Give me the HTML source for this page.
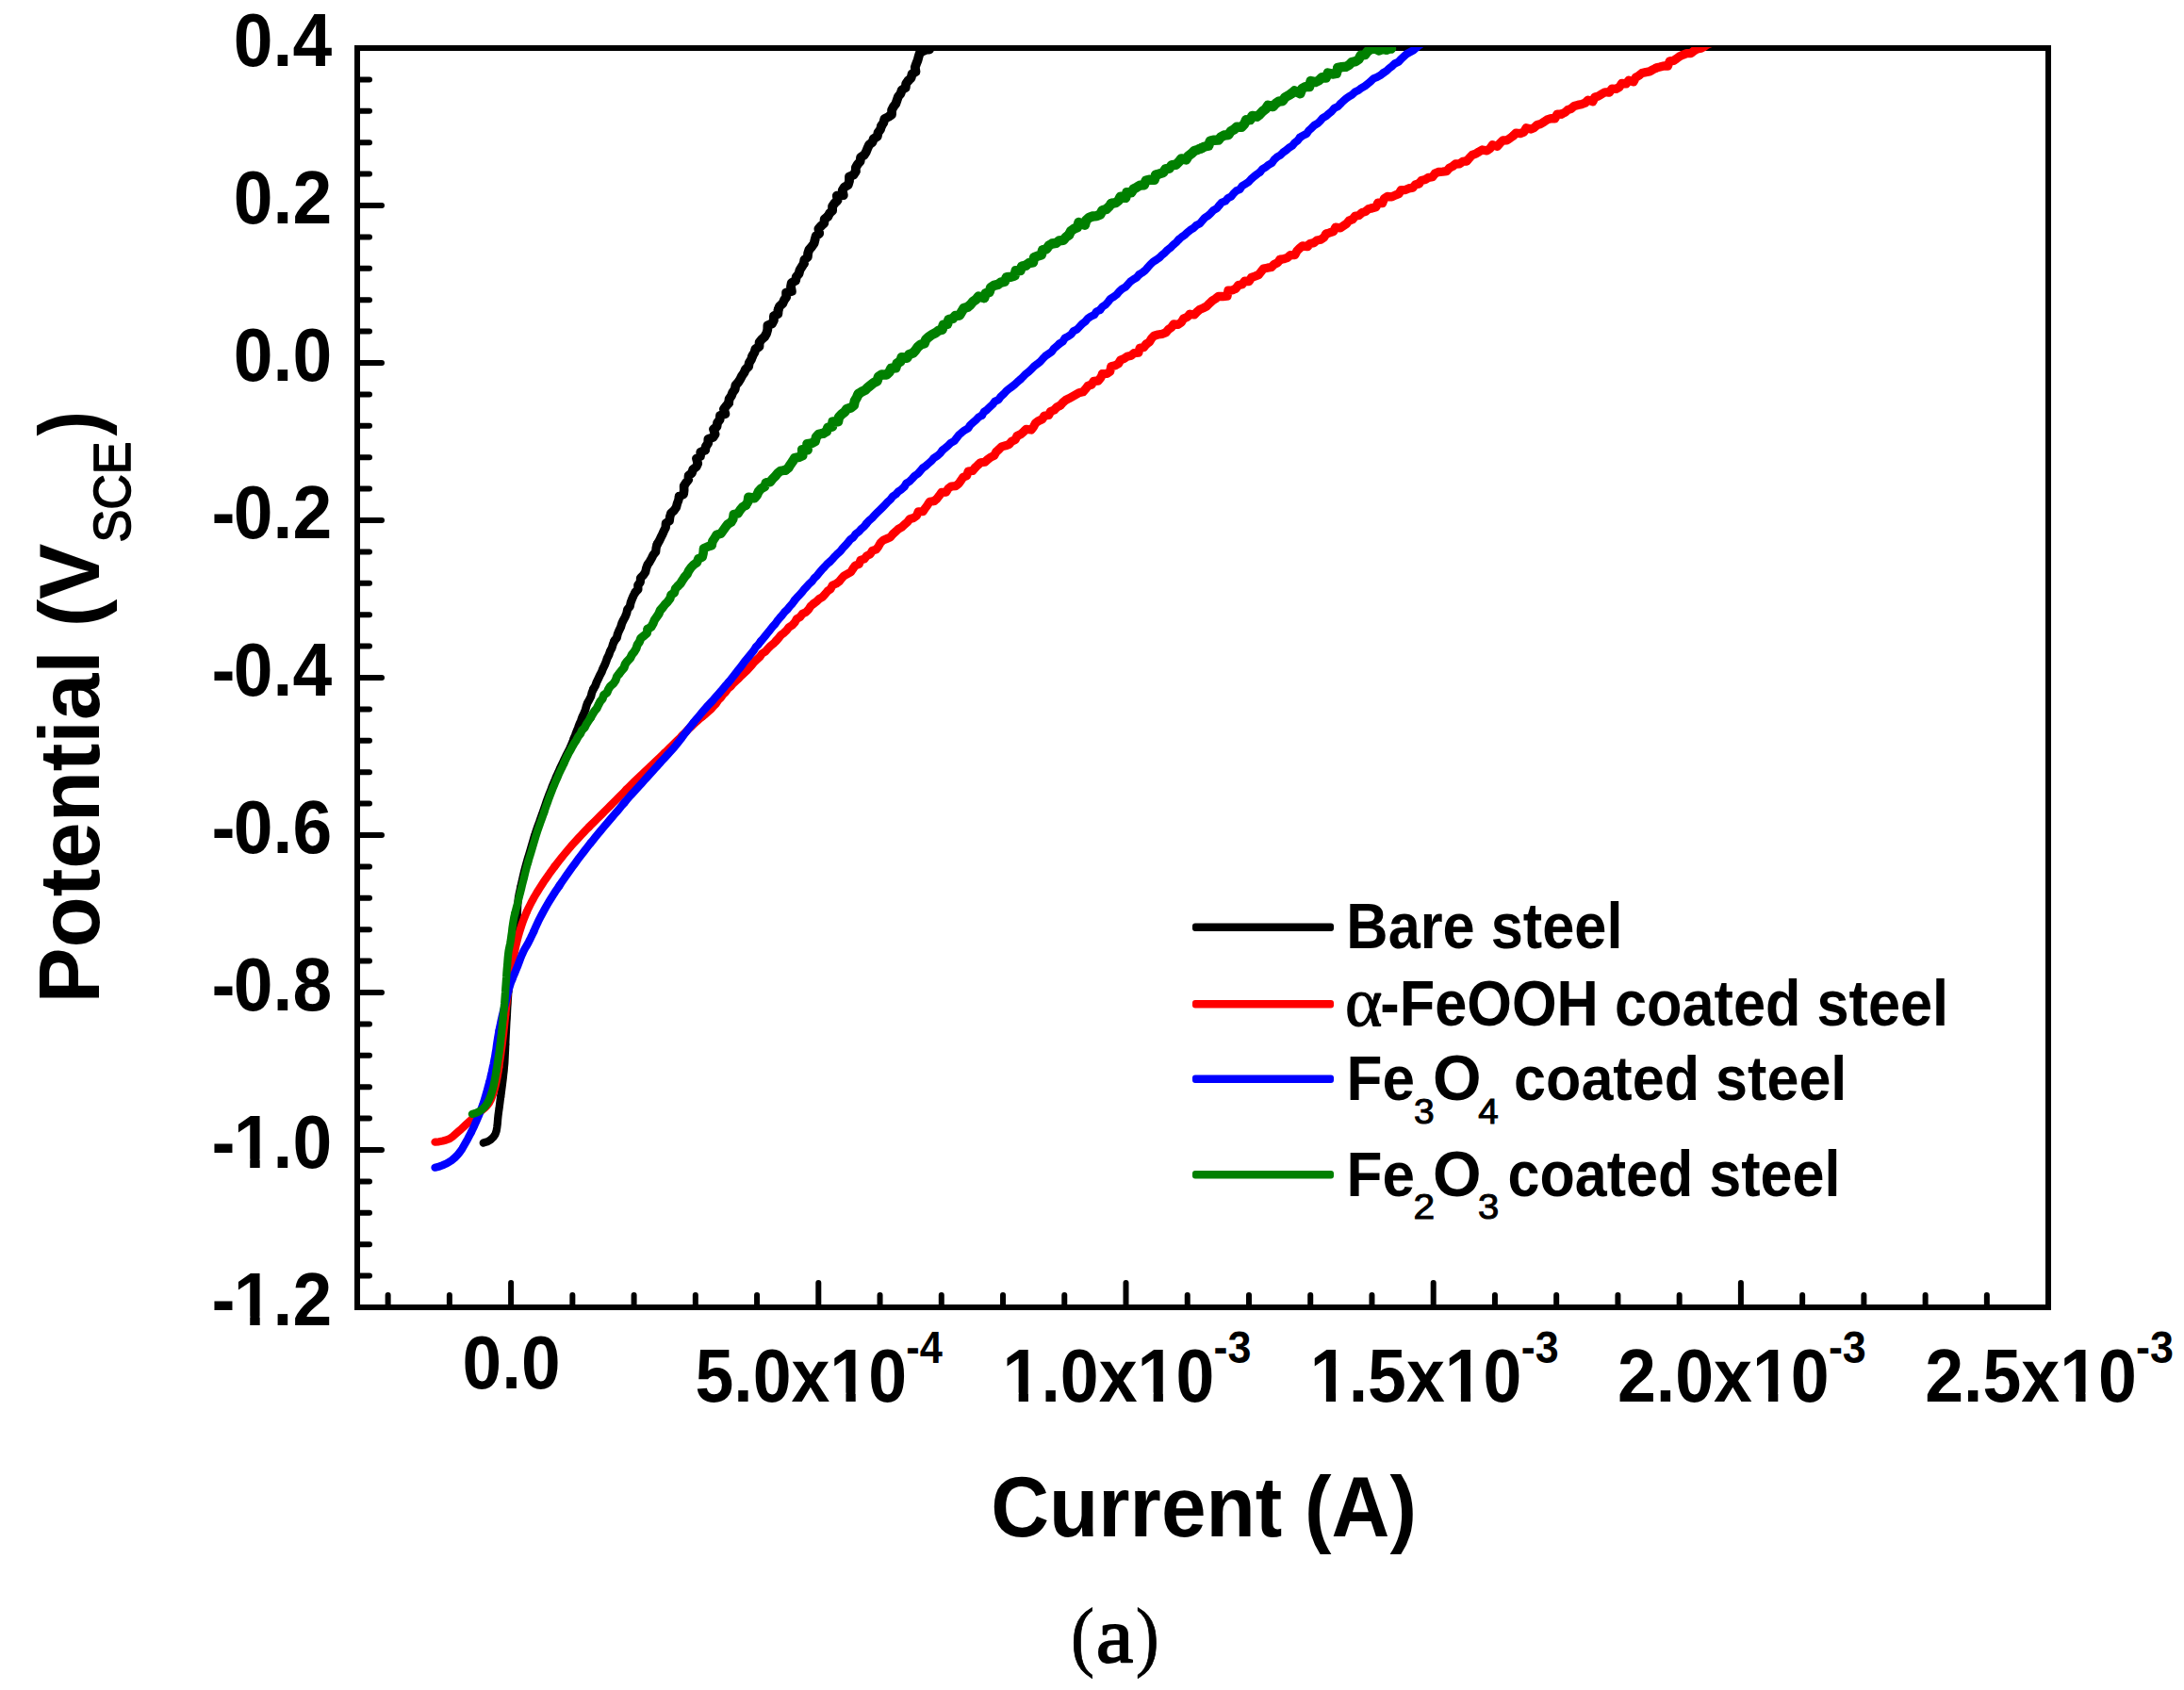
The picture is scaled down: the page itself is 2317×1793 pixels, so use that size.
<!DOCTYPE html>
<html lang="en"><head><meta charset="utf-8"><title>Polarization curves</title>
<style>html,body{margin:0;padding:0;background:#fff}body{width:2317px;height:1793px;overflow:hidden}svg text{white-space:pre}</style>
</head><body>
<svg width="2317" height="1793" viewBox="0 0 2317 1793" style="display:block">
<rect width="2317" height="1793" fill="#fff"/>
<defs><clipPath id="plotclip"><rect x="379.0" y="50.0" width="1794.0" height="1337.0"/></clipPath></defs>
<g fill="none" stroke="#000" stroke-width="6.0">
<rect x="379.0" y="51.0" width="1794.0" height="1336.0"/>
</g>
<g fill="none" stroke="#000" stroke-width="6.0" stroke-linecap="round">
<path d="M379.0 84.40h13.0"/>
<path d="M379.0 117.80h13.0"/>
<path d="M379.0 151.20h13.0"/>
<path d="M379.0 184.60h13.0"/>
<path d="M379.0 218.00h26.0"/>
<path d="M379.0 251.40h13.0"/>
<path d="M379.0 284.80h13.0"/>
<path d="M379.0 318.20h13.0"/>
<path d="M379.0 351.60h13.0"/>
<path d="M379.0 385.00h26.0"/>
<path d="M379.0 418.40h13.0"/>
<path d="M379.0 451.80h13.0"/>
<path d="M379.0 485.20h13.0"/>
<path d="M379.0 518.60h13.0"/>
<path d="M379.0 552.00h26.0"/>
<path d="M379.0 585.40h13.0"/>
<path d="M379.0 618.80h13.0"/>
<path d="M379.0 652.20h13.0"/>
<path d="M379.0 685.60h13.0"/>
<path d="M379.0 719.00h26.0"/>
<path d="M379.0 752.40h13.0"/>
<path d="M379.0 785.80h13.0"/>
<path d="M379.0 819.20h13.0"/>
<path d="M379.0 852.60h13.0"/>
<path d="M379.0 886.00h26.0"/>
<path d="M379.0 919.40h13.0"/>
<path d="M379.0 952.80h13.0"/>
<path d="M379.0 986.20h13.0"/>
<path d="M379.0 1019.60h13.0"/>
<path d="M379.0 1053.00h26.0"/>
<path d="M379.0 1086.40h13.0"/>
<path d="M379.0 1119.80h13.0"/>
<path d="M379.0 1153.20h13.0"/>
<path d="M379.0 1186.60h13.0"/>
<path d="M379.0 1220.00h26.0"/>
<path d="M379.0 1253.40h13.0"/>
<path d="M379.0 1286.80h13.0"/>
<path d="M379.0 1320.20h13.0"/>
<path d="M379.0 1353.60h13.0"/>
<path d="M411.62 1387.0v-13.0"/>
<path d="M476.86 1387.0v-13.0"/>
<path d="M542.10 1387.0v-26.0"/>
<path d="M607.34 1387.0v-13.0"/>
<path d="M672.58 1387.0v-13.0"/>
<path d="M737.82 1387.0v-13.0"/>
<path d="M803.06 1387.0v-13.0"/>
<path d="M868.30 1387.0v-26.0"/>
<path d="M933.54 1387.0v-13.0"/>
<path d="M998.78 1387.0v-13.0"/>
<path d="M1064.02 1387.0v-13.0"/>
<path d="M1129.26 1387.0v-13.0"/>
<path d="M1194.50 1387.0v-26.0"/>
<path d="M1259.74 1387.0v-13.0"/>
<path d="M1324.98 1387.0v-13.0"/>
<path d="M1390.22 1387.0v-13.0"/>
<path d="M1455.46 1387.0v-13.0"/>
<path d="M1520.70 1387.0v-26.0"/>
<path d="M1585.94 1387.0v-13.0"/>
<path d="M1651.18 1387.0v-13.0"/>
<path d="M1716.42 1387.0v-13.0"/>
<path d="M1781.66 1387.0v-13.0"/>
<path d="M1846.90 1387.0v-26.0"/>
<path d="M1912.14 1387.0v-13.0"/>
<path d="M1977.38 1387.0v-13.0"/>
<path d="M2042.62 1387.0v-13.0"/>
<path d="M2107.86 1387.0v-13.0"/>
</g>
<g clip-path="url(#plotclip)" fill="none" stroke-width="8.3" stroke-linejoin="round" stroke-linecap="round">
<polyline stroke="#000000" stroke-width="8.30" points="512.8,1212.5 516.9,1211.3 520.3,1209.4 523.1,1206.8 525.5,1203.3 526.7,1199.6 527.3,1195.8 527.8,1191.8 528.1,1187.7 528.5,1183.6 529.0,1179.7 529.6,1175.7 530.1,1171.7 530.6,1167.8 531.1,1163.8"/>
<polyline stroke="#000000" stroke-width="8.30" points="531.1,1163.8 531.7,1159.8 532.2,1155.9 532.7,1151.9 533.2,1147.9 533.7,1144.0 534.1,1140.0 534.6,1136.0 534.9,1132.0 535.3,1128.0 535.5,1124.1 535.7,1120.1 535.9,1116.1 536.1,1112.1 536.2,1108.1"/>
<polyline stroke="#000000" stroke-width="8.30" points="536.2,1108.1 536.4,1104.1 536.6,1100.1 536.8,1096.1 537.0,1092.1 537.2,1088.1 537.4,1084.1 537.7,1080.1 537.9,1076.1 538.1,1072.1 538.3,1068.1 538.6,1064.1 538.8,1060.1 539.1,1056.1 539.3,1052.2"/>
<polyline stroke="#000000" stroke-width="8.30" points="539.3,1052.2 539.6,1048.2 539.9,1044.2 540.2,1040.2 540.6,1036.2 540.9,1032.2 541.3,1028.2 541.7,1024.3 542.1,1020.3 542.5,1016.3 543.0,1012.3 543.5,1008.4 544.0,1004.4 544.7,1000.4 545.4,996.5"/>
<polyline stroke="#000000" stroke-width="8.30" points="545.4,996.5 546.0,992.6 546.6,988.6 547.3,984.6 547.9,980.7 548.3,976.7 548.7,972.7 548.9,968.7 549.0,964.7 549.2,960.7 549.5,956.8 549.9,952.8 550.6,948.9 551.5,944.9 552.4,941.0"/>
<polyline stroke="#000000" stroke-width="8.30" points="552.4,941.0 553.2,937.1 554.1,933.2 555.0,929.3 555.9,925.4 556.9,921.5 557.9,917.7 559.0,913.8 560.1,910.0 561.3,906.2 562.5,902.3 563.6,898.5 564.7,894.7 565.8,890.8 567.0,887.0"/>
<polyline stroke="#000000" stroke-width="8.30" points="567.0,887.0 568.2,883.2 569.5,879.4 570.8,875.6 572.2,871.9 573.5,868.1 574.9,864.3 576.2,860.5 577.5,856.8 578.8,853.0 580.1,849.2 581.5,845.5 582.9,841.7 584.4,838.0 585.9,834.3"/>
<polyline stroke="#000000" stroke-width="8.45" points="585.9,834.3 587.4,830.6 589.0,826.9 590.5,823.2 592.2,819.6 593.8,815.9 595.5,812.3 597.2,808.7 598.9,805.1 600.7,801.5 602.5,797.9 604.3,794.3 605.9,790.7 607.5,787.0 608.9,783.3"/>
<polyline stroke="#000000" stroke-width="8.65" points="608.9,783.3 610.4,779.6 611.8,775.8 613.3,772.1 614.7,768.3 616.3,764.7 617.6,760.9 619.3,757.2 620.9,753.6 621.9,749.7 623.2,745.9 625.2,742.4 627.0,738.8 627.9,734.8 629.4,731.1"/>
<polyline stroke="#000000" stroke-width="8.84" points="629.4,731.1 631.5,727.7 632.9,723.9 634.6,720.3 636.3,716.7 638.2,713.2 639.6,709.4 641.4,705.8 642.9,702.1 644.2,698.3 646.0,694.7 647.3,690.9 649.2,687.4 650.3,683.5 651.8,679.8"/>
<polyline stroke="#000000" stroke-width="9.03" points="651.8,679.8 654.4,676.6 655.3,672.6 656.8,668.9 658.6,665.3 659.7,661.4 661.4,657.8 663.3,654.3 664.8,650.6 665.6,646.6 668.3,643.4 669.1,639.4 670.5,635.6 672.1,631.9 674.0,628.4"/>
<polyline stroke="#000000" stroke-width="9.23" points="674.0,628.4 676.9,625.3 676.8,620.9 679.3,617.6 679.5,613.3 682.5,610.3 684.7,606.9 685.6,602.9 687.0,599.2 689.3,595.8 691.3,592.3 693.0,588.7 695.7,585.5 696.1,581.3 697.2,577.4"/>
<polyline stroke="#000000" stroke-width="9.42" points="697.2,577.4 699.3,574.0 701.0,570.4 702.8,566.8 704.4,563.1 706.2,559.6 706.4,555.2 710.2,552.6 710.7,548.4 711.8,544.5 715.1,541.6 717.4,538.3 718.4,534.3 719.8,530.6 720.6,526.5"/>
<polyline stroke="#000000" stroke-width="9.61" points="720.6,526.5 725.2,524.3 725.7,520.1 725.6,515.6 727.7,512.2 730.3,509.0 730.5,504.6 734.0,501.9 735.2,498.0 738.7,495.3 740.3,491.7 738.9,486.4 743.1,484.1 743.2,479.6 748.0,477.6"/>
<polyline stroke="#000000" stroke-width="9.79" points="748.0,477.6 748.9,473.6 751.2,470.3 751.4,465.8 756.5,464.0 758.6,460.6 757.0,455.3 760.5,452.6 761.1,448.4 763.6,445.2 764.0,440.9 769.4,439.1 767.9,433.9 770.4,430.7 773.1,427.6"/>
<polyline stroke="#000000" stroke-width="9.80" points="773.1,427.6 773.6,423.3 775.9,420.0 777.3,416.3 779.7,413.0 780.4,408.8 783.1,405.7 785.3,402.4 787.1,398.8 789.4,395.5 791.0,391.8 794.1,388.9 794.8,384.8 797.0,381.4 798.3,377.6"/>
<polyline stroke="#000000" stroke-width="9.80" points="798.3,377.6 800.4,374.1 801.5,370.2 805.5,367.8 805.6,363.3 808.0,360.1 811.2,357.3 813.2,353.8 814.3,349.8 814.4,345.3 819.1,343.4 820.9,339.8 820.9,335.2 825.4,333.1 825.6,328.7"/>
<polyline stroke="#000000" stroke-width="9.80" points="825.6,328.7 827.0,324.9 830.3,322.1 831.9,318.4 834.2,315.1 834.1,310.5 839.9,309.1 839.0,304.1 839.8,300.0 844.1,297.7 844.8,293.6 847.5,290.5 848.5,286.5 850.6,283.1 852.8,279.7"/>
<polyline stroke="#000000" stroke-width="9.80" points="852.8,279.7 853.4,275.5 856.8,272.7 857.2,268.5 858.5,264.7 861.3,261.6 863.6,258.2 864.6,254.3 865.7,250.3 869.2,247.7 868.4,242.7 871.2,239.6 874.3,236.8 874.7,232.4 878.2,229.8"/>
<polyline stroke="#000000" stroke-width="9.80" points="878.2,229.8 880.1,226.3 883.1,223.4 883.1,218.8 885.5,215.5 888.6,212.7 887.8,207.6 894.8,207.2 893.7,201.8 895.9,198.4 899.8,196.2 901.0,192.2 901.0,187.6 905.6,185.6 907.7,182.1"/>
<polyline stroke="#000000" stroke-width="9.80" points="907.7,182.1 907.9,177.7 909.9,174.2 912.6,171.2 913.1,166.8 916.8,164.5 918.9,161.1 920.4,157.2 922.1,153.4 925.5,151.0 926.8,147.2 930.8,144.8 931.5,140.7 934.0,137.4 935.1,133.5"/>
<polyline stroke="#000000" stroke-width="9.80" points="935.1,133.5 937.3,130.2 938.4,126.1 942.4,124.0 946.0,121.7 946.1,116.8 947.9,113.3 950.3,110.1 951.6,106.3 952.9,102.5 955.5,99.3 956.8,95.4 960.7,93.1 961.2,88.7 963.6,85.6"/>
<polyline stroke="#000000" stroke-width="9.80" points="963.6,85.6 966.6,82.7 967.6,78.5 971.5,76.1 970.8,71.3 972.1,67.6 973.6,63.9 974.6,60.0 975.9,55.9 979.4,54.2 983.1,52.5 986.0,52.5"/>
<polyline stroke="#ff0000" stroke-width="8.30" points="461.5,1211.6 465.7,1211.3 469.7,1210.5 473.4,1209.5 477.0,1208.1 480.2,1205.9 483.3,1203.2 486.4,1200.4 489.4,1197.8 492.3,1195.1 495.2,1192.3 498.2,1189.6 501.2,1187.0 504.2,1184.3 507.1,1181.6"/>
<polyline stroke="#ff0000" stroke-width="8.30" points="507.1,1181.6 510.2,1178.9 513.4,1176.2 516.3,1173.4 518.7,1170.4 520.5,1167.1 522.0,1163.4 523.4,1159.6 524.6,1155.7 525.6,1151.7 526.5,1147.8 527.3,1143.9 528.0,1140.0 528.7,1136.1 529.3,1132.1"/>
<polyline stroke="#ff0000" stroke-width="8.30" points="529.3,1132.1 529.8,1128.1 530.4,1124.1 531.0,1120.2 531.5,1116.2 532.1,1112.2 532.6,1108.3 533.1,1104.3 533.6,1100.3 534.1,1096.4 534.5,1092.4 535.0,1088.4 535.4,1084.4 535.8,1080.5 536.2,1076.5"/>
<polyline stroke="#ff0000" stroke-width="8.30" points="536.2,1076.5 536.6,1072.5 537.0,1068.5 537.5,1064.5 537.9,1060.6 538.4,1056.6 538.9,1052.6 539.5,1048.7 540.0,1044.7 540.6,1040.8 541.2,1036.8 541.8,1032.8 542.5,1028.9 543.1,1024.9 543.8,1021.0"/>
<polyline stroke="#ff0000" stroke-width="8.30" points="543.8,1021.0 544.5,1017.1 545.3,1013.1 546.1,1009.2 546.9,1005.3 547.8,1001.4 548.7,997.5 549.7,993.6 550.8,989.8 552.0,986.0 553.2,982.2 554.5,978.4 555.9,974.6 557.4,970.9 558.9,967.2"/>
<polyline stroke="#ff0000" stroke-width="8.30" points="558.9,967.2 560.6,963.6 562.4,960.0 564.2,956.4 566.1,952.9 568.1,949.5 570.2,946.0 572.3,942.6 574.5,939.2 576.6,935.9 578.9,932.6 581.2,929.3 583.5,926.0 585.9,922.8 588.2,919.6"/>
<polyline stroke="#ff0000" stroke-width="8.30" points="588.2,919.6 590.7,916.4 593.1,913.3 595.6,910.1 598.1,907.0 600.7,903.9 603.2,900.9 605.8,897.8 608.5,894.8 611.2,891.9 613.9,888.9 616.6,886.0 619.3,883.1 622.1,880.2 624.9,877.3"/>
<polyline stroke="#ff0000" stroke-width="8.30" points="624.9,877.3 627.7,874.5 630.6,871.7 633.4,868.9 636.3,866.0 639.1,863.2 641.9,860.4 644.7,857.6 647.6,854.7 650.4,851.9 653.2,849.1 656.1,846.2 658.9,843.4 661.7,840.6 664.5,837.7"/>
<polyline stroke="#ff0000" stroke-width="8.38" points="664.5,837.7 667.3,834.9 670.2,832.1 673.0,829.3 675.9,826.5 678.8,823.7 681.7,821.0 684.6,818.2 687.5,815.5 690.4,812.7 693.3,810.0 696.2,807.2 699.1,804.5 702.0,801.7 704.9,799.0"/>
<polyline stroke="#ff0000" stroke-width="8.48" points="704.9,799.0 707.8,796.2 710.7,793.4 713.6,790.6 716.4,787.8 719.2,785.0 722.1,782.2 724.8,779.2 727.6,776.4 730.4,773.5 733.4,770.9 736.2,768.0 739.2,765.4 742.1,762.6 745.2,760.1"/>
<polyline stroke="#ff0000" stroke-width="8.57" points="745.2,760.1 748.4,757.6 751.4,754.9 754.4,752.3 756.9,749.3 759.7,746.4 761.9,743.0 764.8,740.2 767.0,736.9 769.9,734.1 772.2,730.8 775.3,728.2 777.9,725.1 780.8,722.3 783.7,719.6"/>
<polyline stroke="#ff0000" stroke-width="8.68" points="783.7,719.6 786.5,716.7 789.4,714.0 792.4,711.3 795.1,708.4 797.8,705.4 800.3,702.2 803.2,699.5 806.2,696.8 808.5,693.4 812.0,691.3 814.6,688.2 817.4,685.4 820.5,682.9 823.3,680.0"/>
<polyline stroke="#ff0000" stroke-width="8.77" points="823.3,680.0 826.0,677.0 828.5,673.8 831.7,671.4 834.6,668.6 837.0,665.4 840.5,663.3 843.2,660.3 845.2,656.6 848.8,654.6 851.2,651.3 855.0,649.5 857.8,646.6 860.0,643.1 863.0,640.5"/>
<polyline stroke="#ff0000" stroke-width="8.87" points="863.0,640.5 866.3,638.2 869.1,635.3 872.7,633.3 875.4,630.3 877.9,627.2 881.2,624.8 883.1,621.0 887.0,619.3 890.3,616.9 892.8,613.8 895.5,610.8 899.1,608.8 902.7,606.8 904.9,603.3"/>
<polyline stroke="#ff0000" stroke-width="8.96" points="904.9,603.3 907.3,600.0 911.4,598.6 912.9,594.3 917.0,592.9 919.5,589.7 923.3,587.9 925.4,584.2 929.5,582.9 932.0,579.7 934.1,575.9 937.0,573.1 940.9,571.5 944.7,569.9 947.2,566.6"/>
<polyline stroke="#ff0000" stroke-width="9.05" points="947.2,566.6 950.2,564.0 953.1,561.2 956.7,559.3 959.6,556.5 962.7,553.9 965.1,550.6 969.3,549.5 972.5,547.1 974.2,542.7 979.2,542.7 981.6,539.1 984.0,535.8 986.3,532.3 990.9,531.6"/>
<polyline stroke="#ff0000" stroke-width="9.14" points="990.9,531.6 994.0,529.1 996.5,525.8 998.9,522.4 1003.8,522.1 1005.9,518.4 1009.2,516.0 1013.9,515.6 1017.1,513.1 1019.5,509.8 1021.8,506.2 1025.7,504.7 1027.1,500.0 1031.8,499.5 1034.4,496.3"/>
<polyline stroke="#ff0000" stroke-width="9.23" points="1034.4,496.3 1037.3,493.5 1040.3,490.8 1044.8,490.2 1047.8,487.5 1051.0,485.1 1054.7,483.4 1056.8,479.5 1059.8,476.8 1062.6,473.9 1066.8,472.8 1070.7,471.4 1073.3,468.2 1077.1,466.6 1079.1,462.5"/>
<polyline stroke="#ff0000" stroke-width="9.30" points="1079.1,462.5 1082.8,460.8 1085.8,458.2 1088.7,455.4 1094.1,456.0 1096.6,452.7 1098.7,448.7 1102.0,446.4 1105.7,444.7 1108.0,441.0 1112.5,440.5 1114.6,436.5 1118.4,435.0 1121.2,432.0 1124.8,430.2"/>
<polyline stroke="#ff0000" stroke-width="9.30" points="1124.8,430.2 1127.5,427.1 1130.6,424.5 1134.2,422.7 1137.7,420.7 1141.2,418.7 1144.7,416.7 1148.9,415.8 1151.7,412.7 1154.2,409.4 1158.1,408.0 1160.4,404.3 1165.1,404.0 1167.7,400.8 1169.6,396.6"/>
<polyline stroke="#ff0000" stroke-width="9.30" points="1169.6,396.6 1174.4,396.3 1177.7,394.1 1178.8,388.8 1183.1,387.8 1186.5,385.8 1188.7,382.0 1192.5,380.5 1195.8,378.2 1200.1,377.2 1203.2,374.7 1207.8,374.2 1209.2,369.3 1213.5,368.4 1216.0,365.1"/>
<polyline stroke="#ff0000" stroke-width="9.30" points="1216.0,365.1 1219.4,362.9 1221.6,359.2 1224.4,356.2 1228.5,355.0 1232.8,354.3 1236.7,352.9 1239.4,349.7 1242.6,347.5 1245.1,344.0 1250.0,344.3 1253.3,342.0 1255.6,338.0 1259.3,336.4 1262.2,333.4"/>
<polyline stroke="#ff0000" stroke-width="9.30" points="1262.2,333.4 1267.1,333.9 1269.9,330.8 1273.1,328.2 1276.8,326.7 1280.3,324.8 1283.2,321.8 1286.2,319.0 1289.6,316.9 1292.7,314.3 1297.5,314.5 1302.0,314.2 1303.0,308.1 1307.5,307.9 1311.1,306.1"/>
<polyline stroke="#ff0000" stroke-width="9.30" points="1311.1,306.1 1313.6,302.6 1317.8,301.7 1320.4,298.2 1325.2,298.5 1327.5,294.5 1331.3,293.2 1335.1,291.7 1337.8,288.4 1340.4,285.0 1344.6,284.2 1348.8,283.5 1351.7,280.5 1355.4,278.8 1358.0,275.4"/>
<polyline stroke="#ff0000" stroke-width="9.30" points="1358.0,275.4 1362.2,274.7 1366.0,273.3 1369.1,270.6 1373.7,270.5 1375.9,266.3 1378.8,263.4 1381.9,260.8 1387.1,261.7 1389.8,258.5 1393.9,257.6 1397.1,255.0 1401.2,254.2 1404.5,251.9 1406.9,248.1"/>
<polyline stroke="#ff0000" stroke-width="9.30" points="1406.9,248.1 1410.8,246.8 1414.7,245.6 1416.8,241.2 1421.9,241.9 1425.2,239.7 1428.5,237.4 1431.2,234.1 1435.0,232.6 1437.6,229.2 1441.7,228.4 1444.8,225.7 1448.7,224.4 1451.8,221.8 1455.8,220.7"/>
<polyline stroke="#ff0000" stroke-width="9.30" points="1455.8,220.7 1459.8,219.7 1461.8,215.1 1466.6,215.6 1468.5,210.6 1471.9,208.5 1476.6,208.8 1480.2,207.1 1484.0,205.7 1486.4,201.6 1490.8,201.5 1494.5,199.9 1498.7,199.2 1501.5,196.0 1505.4,194.8"/>
<polyline stroke="#ff0000" stroke-width="9.30" points="1505.4,194.8 1508.1,191.4 1512.1,190.4 1515.6,188.3 1519.7,187.7 1522.4,184.1 1526.0,182.5 1530.4,182.2 1534.6,181.7 1537.4,178.4 1541.0,176.5 1544.2,174.0 1548.5,173.8 1551.8,171.4 1556.0,170.9"/>
<polyline stroke="#ff0000" stroke-width="9.30" points="1556.0,170.9 1558.9,167.7 1561.8,164.5 1565.6,163.2 1569.0,161.0 1572.5,159.0 1577.4,159.9 1580.7,157.7 1583.3,153.8 1588.5,155.4 1591.3,152.0 1594.3,149.0 1598.6,148.8 1602.0,146.6 1605.3,144.1"/>
<polyline stroke="#ff0000" stroke-width="9.30" points="1605.3,144.1 1608.3,141.1 1612.9,141.6 1616.7,140.2 1619.0,135.8 1624.1,137.0 1627.7,135.4 1630.8,132.5 1634.7,131.4 1638.1,129.3 1641.4,126.9 1645.3,125.7 1649.7,125.9 1651.9,121.1 1656.4,121.2"/>
<polyline stroke="#ff0000" stroke-width="9.30" points="1656.4,121.2 1660.0,119.4 1663.1,116.7 1666.9,115.3 1670.0,112.5 1673.9,111.4 1677.9,110.6 1681.7,109.2 1684.6,106.1 1689.9,107.7 1692.0,102.9 1695.9,101.9 1699.3,99.8 1702.8,97.8 1707.3,97.9"/>
<polyline stroke="#ff0000" stroke-width="9.30" points="1707.3,97.9 1710.0,94.2 1714.5,94.4 1718.0,92.4 1720.5,88.3 1725.2,88.9 1727.9,85.3 1733.0,86.8 1735.3,82.3 1738.8,80.1 1742.0,77.5 1746.0,76.6 1750.0,75.9 1753.5,73.9 1757.1,72.1"/>
<polyline stroke="#ff0000" stroke-width="9.30" points="1757.1,72.1 1761.0,71.1 1764.9,70.0 1769.4,70.1 1771.3,64.9 1775.5,64.4 1778.8,62.1 1782.0,59.7 1785.7,58.1 1789.5,56.7 1794.0,56.6 1797.1,53.9 1800.6,51.9 1804.6,51.1 1808.1,49.1"/>
<polyline stroke="#ff0000" stroke-width="9.30" points="1808.1,49.1 1811.5,47.1 1815.2,45.5 1818.7,43.5 1822.0,42.0"/>
<polyline stroke="#0000ff" stroke-width="8.30" points="461.5,1238.7 465.5,1237.7 469.3,1236.4 472.9,1234.8 476.4,1232.9 479.7,1230.7 482.8,1228.0 485.6,1225.1 488.0,1222.1 490.3,1218.8 492.3,1215.3 494.3,1211.7 496.3,1208.2 498.1,1204.7 500.0,1201.1"/>
<polyline stroke="#0000ff" stroke-width="8.30" points="500.0,1201.1 501.7,1197.5 503.4,1193.9 505.0,1190.3 506.6,1186.6 508.2,1182.9 509.6,1179.2 511.0,1175.4 512.4,1171.7 513.6,1167.9 514.8,1164.0 515.9,1160.2 517.0,1156.3 518.0,1152.5 519.1,1148.6"/>
<polyline stroke="#0000ff" stroke-width="8.30" points="519.1,1148.6 520.1,1144.7 521.0,1140.8 521.9,1136.9 522.7,1133.0 523.6,1129.1 524.3,1125.2 525.1,1121.3 525.7,1117.3 526.4,1113.4 526.9,1109.4 527.5,1105.5 528.1,1101.5 528.8,1097.6 529.5,1093.6"/>
<polyline stroke="#0000ff" stroke-width="8.30" points="529.5,1093.6 530.3,1089.7 531.1,1085.8 531.9,1081.9 532.8,1078.0 533.7,1074.1 534.7,1070.2 535.7,1066.3 536.6,1062.4 537.6,1058.5 538.5,1054.6 539.5,1050.8 540.6,1046.9 541.8,1043.1 543.2,1039.4"/>
<polyline stroke="#0000ff" stroke-width="8.30" points="543.2,1039.4 544.7,1035.7 546.3,1032.0 547.8,1028.3 549.3,1024.6 550.7,1020.8 552.1,1017.0 553.6,1013.3 555.2,1009.7 557.0,1006.1 559.1,1002.7 561.0,999.2 562.8,995.6 564.5,992.0 566.2,988.4"/>
<polyline stroke="#0000ff" stroke-width="8.30" points="566.2,988.4 567.8,984.7 569.4,981.1 571.1,977.4 572.9,973.9 574.8,970.3 576.7,966.8 578.6,963.3 580.6,959.8 582.6,956.4 584.7,953.0 586.9,949.6 589.0,946.2 591.3,942.9 593.5,939.6"/>
<polyline stroke="#0000ff" stroke-width="8.30" points="593.5,939.6 595.7,936.3 598.0,933.0 600.3,929.7 602.6,926.4 604.9,923.1 607.2,919.9 609.6,916.7 612.0,913.4 614.3,910.2 616.8,907.0 619.2,903.9 621.6,900.7 624.1,897.5 626.6,894.4"/>
<polyline stroke="#0000ff" stroke-width="8.30" points="626.6,894.4 629.1,891.3 631.6,888.2 634.1,885.1 636.7,882.0 639.3,878.9 641.8,875.9 644.4,872.8 647.0,869.8 649.6,866.8 652.2,863.7 654.8,860.7 657.4,857.6 659.9,854.5 662.5,851.5"/>
<polyline stroke="#0000ff" stroke-width="8.30" points="662.5,851.5 665.1,848.4 667.7,845.4 670.4,842.4 673.1,839.5 675.8,836.5 678.5,833.5 681.2,830.6 683.8,827.6 686.5,824.6 689.2,821.7 691.9,818.7 694.5,815.7 697.2,812.8 699.9,809.8"/>
<polyline stroke="#0000ff" stroke-width="8.32" points="699.9,809.8 702.6,806.8 705.3,803.9 708.0,800.9 710.7,798.0 713.4,795.0 716.0,792.0 718.5,788.9 721.0,785.7 723.4,782.6 725.8,779.3 728.2,776.2 730.7,773.0 733.2,769.9 735.7,766.7"/>
<polyline stroke="#0000ff" stroke-width="8.33" points="735.7,766.7 738.2,763.7 740.8,760.6 743.3,757.5 745.9,754.4 748.5,751.4 751.2,748.4 754.0,745.5 756.7,742.6 759.3,739.6 762.0,736.6 764.6,733.6 767.2,730.6 769.7,727.4 772.4,724.5"/>
<polyline stroke="#0000ff" stroke-width="8.34" points="772.4,724.5 775.0,721.4 777.4,718.3 779.9,715.1 782.3,711.9 784.8,708.8 787.3,705.7 789.6,702.4 792.1,699.3 794.7,696.2 797.2,693.1 799.8,690.0 801.8,686.5 804.7,683.7 807.0,680.4"/>
<polyline stroke="#0000ff" stroke-width="8.35" points="807.0,680.4 809.6,677.4 812.2,674.3 814.7,671.2 817.2,668.1 819.6,664.9 822.4,662.0 824.6,658.7 827.2,655.6 829.9,652.6 832.3,649.4 835.3,646.7 837.7,643.5 840.4,640.6 842.7,637.3"/>
<polyline stroke="#0000ff" stroke-width="8.36" points="842.7,637.3 845.3,634.2 848.0,631.3 850.7,628.4 853.1,625.2 856.0,622.3 858.6,619.3 861.6,616.6 863.9,613.3 866.9,610.6 869.3,607.4 871.9,604.4 874.7,601.5 877.4,598.5 880.4,595.9"/>
<polyline stroke="#0000ff" stroke-width="8.37" points="880.4,595.9 883.3,593.1 885.9,590.1 888.7,587.3 891.7,584.6 894.2,581.4 897.0,578.5 899.6,575.5 902.1,572.4 905.4,570.0 907.7,566.6 911.0,564.2 913.6,561.2 916.7,558.6 919.2,555.5"/>
<polyline stroke="#0000ff" stroke-width="8.38" points="919.2,555.5 921.8,552.5 924.9,549.9 927.5,546.9 930.4,544.1 933.3,541.3 936.1,538.5 938.9,535.6 941.6,532.7 944.6,530.0 947.0,526.7 950.4,524.4 953.0,521.4 956.4,519.2 959.4,516.5"/>
<polyline stroke="#0000ff" stroke-width="8.39" points="959.4,516.5 961.4,512.9 964.9,510.7 967.7,507.9 970.4,504.9 973.7,502.6 976.4,499.6 979.0,496.5 982.3,494.2 985.3,491.5 988.3,488.9 990.9,485.8 994.4,483.7 997.4,481.0 999.8,477.7"/>
<polyline stroke="#0000ff" stroke-width="8.40" points="999.8,477.7 1002.9,475.2 1006.0,472.6 1008.8,469.8 1012.4,467.8 1014.9,464.6 1017.4,461.4 1020.4,458.8 1023.6,456.3 1027.2,454.3 1029.4,450.8 1032.4,448.2 1035.4,445.6 1038.2,442.7 1041.8,440.7"/>
<polyline stroke="#0000ff" stroke-width="8.40" points="1041.8,440.7 1043.9,437.0 1047.2,434.7 1050.0,431.8 1053.0,429.2 1055.4,425.9 1059.3,424.2 1061.6,420.9 1064.6,418.2 1067.3,415.2 1070.3,412.6 1073.6,410.3 1076.7,407.7 1079.6,405.0 1082.7,402.4"/>
<polyline stroke="#0000ff" stroke-width="8.40" points="1082.7,402.4 1085.5,399.6 1088.3,396.7 1091.5,394.2 1094.4,391.5 1097.1,388.6 1100.4,386.2 1103.5,383.7 1106.2,380.7 1109.0,377.8 1112.3,375.5 1115.6,373.3 1118.0,369.9 1121.0,367.3 1124.0,364.6"/>
<polyline stroke="#0000ff" stroke-width="8.40" points="1124.0,364.6 1127.4,362.5 1129.6,358.8 1133.2,356.9 1136.5,354.6 1138.9,351.3 1142.6,349.5 1145.4,346.5 1148.1,343.6 1151.4,341.2 1153.9,338.0 1157.2,335.8 1161.0,334.0 1163.2,330.5 1167.1,328.8"/>
<polyline stroke="#0000ff" stroke-width="8.40" points="1167.1,328.8 1169.5,325.5 1172.9,323.3 1175.6,320.3 1178.0,317.0 1181.5,314.9 1184.7,312.5 1187.3,309.4 1190.3,306.7 1193.8,304.7 1196.5,301.7 1199.2,298.7 1202.5,296.4 1206.0,294.3 1208.6,291.2"/>
<polyline stroke="#0000ff" stroke-width="8.40" points="1208.6,291.2 1212.0,289.1 1215.2,286.6 1217.8,283.5 1220.5,280.5 1223.4,277.8 1226.8,275.6 1230.1,273.3 1232.9,270.4 1236.0,267.9 1238.8,265.0 1242.0,262.6 1244.8,259.7 1247.9,257.1 1250.6,254.2"/>
<polyline stroke="#0000ff" stroke-width="8.40" points="1250.6,254.2 1253.6,251.5 1256.9,249.3 1259.8,246.4 1262.9,243.9 1266.4,241.8 1269.2,239.0 1272.9,237.2 1275.6,234.1 1278.2,231.0 1281.6,228.9 1284.5,226.2 1287.3,223.2 1290.9,221.2 1293.4,218.0"/>
<polyline stroke="#0000ff" stroke-width="8.40" points="1293.4,218.0 1296.0,214.9 1299.9,213.4 1302.6,210.3 1306.2,208.5 1308.7,205.2 1311.6,202.4 1315.5,200.8 1317.8,197.3 1321.2,195.2 1324.6,193.0 1327.3,190.0 1330.3,187.4 1333.5,184.9 1336.7,182.6"/>
<polyline stroke="#0000ff" stroke-width="8.40" points="1336.7,182.6 1339.3,179.4 1342.8,177.4 1345.9,174.8 1349.4,172.8 1351.8,169.4 1354.7,166.7 1358.3,164.7 1361.1,161.8 1364.4,159.5 1367.4,156.9 1370.8,154.8 1373.4,151.6 1376.6,149.2 1379.0,145.9"/>
<polyline stroke="#0000ff" stroke-width="8.40" points="1379.0,145.9 1382.4,143.7 1386.2,141.9 1388.5,138.5 1391.5,135.8 1394.3,133.0 1397.9,130.9 1400.7,128.2 1403.4,125.1 1406.9,123.1 1409.9,120.4 1413.0,117.9 1415.6,114.8 1419.4,113.0 1422.1,110.0"/>
<polyline stroke="#0000ff" stroke-width="8.40" points="1422.1,110.0 1425.0,107.3 1428.0,104.6 1431.2,102.3 1434.7,100.3 1437.6,97.5 1441.3,95.7 1444.4,93.3 1447.9,91.3 1451.1,88.9 1454.2,86.3 1457.1,83.4 1460.9,81.9 1464.4,79.9 1467.5,77.4"/>
<polyline stroke="#0000ff" stroke-width="8.40" points="1467.5,77.4 1470.9,75.2 1473.8,72.5 1477.0,70.1 1479.9,67.3 1483.7,65.6 1486.4,62.6 1489.4,59.9 1492.3,57.2 1495.9,55.3 1499.5,53.3 1502.5,50.7 1505.5,48.1 1508.9,45.9 1512.0,43.4"/>
<polyline stroke="#0000ff" stroke-width="8.40" points="1512.0,43.4 1515.0,41.0"/>
<polyline stroke="#008000" stroke-width="8.30" points="500.9,1181.9 505.0,1180.7 508.7,1179.0 511.8,1176.9 514.4,1174.2 516.7,1170.7 518.7,1167.0 520.2,1163.4 521.5,1159.6 522.7,1155.7 523.7,1151.8 524.5,1147.9 525.2,1144.0 525.9,1140.0 526.6,1136.1"/>
<polyline stroke="#008000" stroke-width="8.30" points="526.6,1136.1 527.2,1132.1 527.8,1128.2 528.4,1124.2 529.0,1120.3 529.6,1116.3 530.1,1112.3 530.6,1108.4 531.1,1104.4 531.5,1100.4 532.0,1096.5 532.4,1092.5 532.8,1088.5 533.2,1084.5 533.6,1080.5"/>
<polyline stroke="#008000" stroke-width="8.30" points="533.6,1080.5 534.0,1076.6 534.4,1072.6 534.8,1068.6 535.2,1064.6 535.5,1060.6 535.8,1056.6 536.1,1052.7 536.3,1048.7 536.6,1044.7 536.9,1040.7 537.2,1036.7 537.4,1032.7 537.7,1028.7 538.1,1024.7"/>
<polyline stroke="#008000" stroke-width="8.30" points="538.1,1024.7 538.4,1020.7 538.7,1016.7 539.1,1012.8 539.6,1008.8 540.4,1004.9 541.2,1001.0 541.9,997.0 542.4,993.1 543.0,989.1 543.4,985.1 544.0,981.1 544.6,977.2 545.3,973.3 546.2,969.4"/>
<polyline stroke="#008000" stroke-width="8.30" points="546.2,969.4 547.2,965.5 548.2,961.6 549.3,957.8 550.2,953.9 551.2,950.0 552.2,946.1 553.2,942.2 554.1,938.4 555.1,934.5 556.1,930.6 557.0,926.7 558.0,922.8 559.0,919.0 560.1,915.1"/>
<polyline stroke="#008000" stroke-width="8.30" points="560.1,915.1 561.2,911.3 562.4,907.5 563.6,903.6 564.7,899.8 565.8,896.0 567.0,892.1 568.1,888.3 569.3,884.5 570.5,880.7 571.9,876.9 573.2,873.1 574.6,869.4 575.9,865.6 577.2,861.8"/>
<polyline stroke="#008000" stroke-width="8.38" points="577.2,861.8 578.5,858.0 579.8,854.2 581.2,850.5 582.5,846.7 583.9,843.0 585.4,839.2 586.8,835.5 588.4,831.8 589.9,828.1 591.6,824.5 593.1,820.8 594.8,817.2 596.6,813.6 598.2,809.9"/>
<polyline stroke="#008000" stroke-width="8.64" points="598.2,809.9 599.8,806.3 601.5,802.7 603.3,799.1 605.4,795.6 607.2,792.1 609.2,788.6 611.4,785.3 613.3,781.7 615.7,778.6 617.4,774.9 620.3,772.0 622.1,768.4 624.3,765.0 626.5,761.7"/>
<polyline stroke="#008000" stroke-width="8.89" points="626.5,761.7 628.4,758.2 630.5,754.7 633.1,751.7 634.8,748.0 636.6,744.4 639.2,741.3 640.5,737.4 644.0,734.9 645.5,731.1 647.7,727.8 650.9,725.1 653.1,721.8 654.4,717.8 656.9,714.7"/>
<polyline stroke="#008000" stroke-width="9.13" points="656.9,714.7 659.4,711.5 662.0,708.5 663.3,704.5 665.7,701.3 668.5,698.4 670.3,694.7 672.8,691.6 674.9,688.2 676.1,684.2 678.4,681.0 679.8,677.1 683.2,674.5 686.4,671.8 687.0,667.5"/>
<polyline stroke="#008000" stroke-width="9.38" points="687.0,667.5 690.8,665.1 692.8,661.7 694.3,657.9 696.6,654.6 698.9,651.3 700.4,647.5 703.1,644.5 705.5,641.3 708.3,638.4 710.8,635.2 711.9,631.2 715.4,628.8 716.5,624.6 719.3,621.7"/>
<polyline stroke="#008000" stroke-width="9.62" points="719.3,621.7 722.1,618.8 724.2,615.3 726.4,612.0 729.1,609.0 730.8,605.3 733.2,602.0 736.0,599.1 739.4,596.7 740.9,592.8 745.1,591.1 746.1,586.8 746.5,581.9 750.5,580.1 755.0,578.5"/>
<polyline stroke="#008000" stroke-width="9.84" points="755.0,578.5 756.0,574.2 758.2,570.8 760.3,567.4 764.9,566.0 767.2,562.7 769.6,559.4 772.0,556.2 775.6,554.1 777.7,550.6 778.4,545.8 783.0,544.7 785.2,541.2 787.7,538.1 791.3,536.0"/>
<polyline stroke="#008000" stroke-width="10.05" points="791.3,536.0 793.4,532.5 794.1,527.5 800.5,528.5 803.0,525.3 804.8,521.4 807.5,518.4 811.1,516.4 812.7,512.1 817.2,511.2 819.7,508.0 822.6,505.2 825.1,502.0 828.3,499.6 833.1,498.9"/>
<polyline stroke="#008000" stroke-width="10.25" points="833.1,498.9 836.3,496.5 838.5,492.9 840.9,489.6 843.0,486.0 847.5,485.0 851.4,483.3 851.0,477.0 856.8,477.4 856.3,471.0 861.1,470.3 864.8,468.3 865.9,463.7 868.6,460.7 873.3,459.8"/>
<polyline stroke="#008000" stroke-width="10.40" points="873.3,459.8 876.9,457.8 878.3,453.5 883.0,452.6 883.5,447.5 889.1,447.2 890.0,442.6 892.8,439.7 896.0,437.2 898.4,433.9 902.8,432.5 905.9,430.0 906.8,425.4 908.9,421.8 910.7,418.0"/>
<polyline stroke="#008000" stroke-width="10.40" points="910.7,418.0 914.0,415.7 917.8,413.9 920.7,411.1 923.8,408.6 926.9,406.2 930.5,404.3 932.0,399.6 935.4,397.5 940.6,397.6 943.5,394.8 945.4,390.7 950.3,390.4 951.6,385.6 955.1,383.6"/>
<polyline stroke="#008000" stroke-width="10.40" points="955.1,383.6 956.6,379.2 962.2,379.7 964.4,376.1 968.5,374.7 971.2,371.7 973.6,368.3 976.6,365.7 980.7,364.3 982.3,360.1 985.3,357.5 988.6,355.1 992.3,353.3 995.5,350.9 999.5,349.5"/>
<polyline stroke="#008000" stroke-width="10.40" points="999.5,349.5 1000.7,344.7 1005.1,343.8 1006.4,339.0 1010.8,338.0 1013.5,335.0 1018.1,334.5 1020.3,330.7 1022.5,327.0 1026.6,325.8 1029.6,323.2 1032.2,320.0 1035.5,317.7 1038.1,314.5 1044.1,316.0"/>
<polyline stroke="#008000" stroke-width="10.40" points="1044.1,316.0 1045.6,311.2 1049.6,310.0 1051.1,305.1 1054.5,302.9 1058.6,301.9 1061.9,299.6 1066.0,298.6 1067.8,294.1 1072.4,293.7 1076.5,292.6 1077.6,287.3 1082.5,287.1 1084.0,282.5 1088.4,281.6"/>
<polyline stroke="#008000" stroke-width="10.40" points="1088.4,281.6 1091.6,279.2 1096.0,278.4 1097.0,273.1 1100.9,271.7 1104.9,270.3 1106.1,265.2 1110.3,264.1 1112.7,260.7 1116.1,258.5 1120.5,257.8 1123.7,255.4 1128.2,254.9 1130.8,251.6 1134.0,249.3"/>
<polyline stroke="#008000" stroke-width="10.40" points="1134.0,249.3 1136.1,245.2 1139.3,242.8 1143.0,241.2 1144.4,236.0 1150.9,238.7 1152.4,233.6 1155.4,230.9 1159.3,229.5 1163.7,229.1 1167.4,227.4 1169.5,223.2 1173.5,222.1 1176.5,219.3 1179.1,215.9"/>
<polyline stroke="#008000" stroke-width="10.40" points="1179.1,215.9 1183.4,215.2 1186.6,212.9 1188.7,208.7 1194.2,209.8 1195.4,204.3 1200.2,204.4 1202.5,200.6 1206.0,198.7 1209.4,196.6 1213.9,196.2 1215.7,191.5 1219.9,190.7 1224.7,190.7 1226.2,185.7"/>
<polyline stroke="#008000" stroke-width="10.40" points="1226.2,185.7 1230.1,184.4 1234.1,183.1 1236.4,179.4 1240.7,178.6 1243.2,175.1 1247.6,174.7 1250.6,171.8 1253.2,168.4 1258.4,169.4 1260.7,165.4 1264.0,163.1 1266.9,160.2 1270.7,158.8 1274.5,157.2"/>
<polyline stroke="#008000" stroke-width="10.40" points="1274.5,157.2 1278.1,155.5 1282.2,154.7 1283.8,149.5 1288.0,148.7 1292.6,148.6 1295.3,145.3 1298.9,143.5 1303.2,143.0 1305.7,139.3 1309.2,137.4 1312.2,134.6 1317.1,134.9 1319.9,131.9 1322.0,127.5"/>
<polyline stroke="#008000" stroke-width="10.40" points="1322.0,127.5 1326.4,127.1 1328.5,122.9 1333.6,123.7 1336.8,121.1 1339.6,118.0 1342.8,115.6 1345.2,111.8 1350.6,113.1 1353.4,109.9 1356.7,107.7 1360.9,107.0 1363.4,103.2 1366.9,101.3 1370.3,99.2"/>
<polyline stroke="#008000" stroke-width="10.40" points="1370.3,99.2 1373.4,96.4 1379.4,99.2 1381.2,94.2 1384.7,92.1 1389.1,92.0 1390.6,86.0 1395.6,87.1 1399.2,85.4 1402.2,82.3 1406.7,82.6 1408.8,77.5 1413.7,78.5 1417.8,77.9 1419.3,72.0"/>
<polyline stroke="#008000" stroke-width="10.40" points="1419.3,72.0 1423.3,71.1 1427.7,70.8 1431.2,69.0 1434.1,66.0 1438.3,65.1 1441.5,62.8 1443.7,58.6 1448.1,58.1 1450.8,54.5 1454.4,52.1 1458.6,51.3 1463.2,53.5 1467.0,52.0 1471.1,52.6"/>
<polyline stroke="#008000" stroke-width="10.40" points="1471.1,52.6 1475.0,51.3 1476.0,51.6"/>
</g>
<g fill="#000">
<text transform="translate(247.80,69.90) scale(0.9500,1)" font-family='"Liberation Sans", Arial, Helvetica, sans-serif' font-weight="bold" font-size="79.00" >0.4</text>
<text transform="translate(247.80,236.90) scale(0.9500,1)" font-family='"Liberation Sans", Arial, Helvetica, sans-serif' font-weight="bold" font-size="79.00" >0.2</text>
<text transform="translate(247.80,403.90) scale(0.9500,1)" font-family='"Liberation Sans", Arial, Helvetica, sans-serif' font-weight="bold" font-size="79.00" >0.0</text>
<text transform="translate(224.60,570.90) scale(0.9500,1)" font-family='"Liberation Sans", Arial, Helvetica, sans-serif' font-weight="bold" font-size="79.00"  dx="0 -1.88">-0.2</text>
<text transform="translate(224.60,737.90) scale(0.9500,1)" font-family='"Liberation Sans", Arial, Helvetica, sans-serif' font-weight="bold" font-size="79.00"  dx="0 -1.88">-0.4</text>
<text transform="translate(224.60,904.90) scale(0.9500,1)" font-family='"Liberation Sans", Arial, Helvetica, sans-serif' font-weight="bold" font-size="79.00"  dx="0 -1.88">-0.6</text>
<text transform="translate(224.60,1071.90) scale(0.9500,1)" font-family='"Liberation Sans", Arial, Helvetica, sans-serif' font-weight="bold" font-size="79.00"  dx="0 -1.88">-0.8</text>
<text transform="translate(224.60,1238.90) scale(0.9500,1)" font-family='"Liberation Sans", Arial, Helvetica, sans-serif' font-weight="bold" font-size="79.00"  dx="0 -1.88">-1.0</text>
<g transform="translate(224.60,1238.90) scale(0.9500,1)" fill="#fff"><rect x="27.98" y="-9.32" width="14.81" height="9.95"/><rect x="53.77" y="-9.32" width="13.71" height="9.95"/></g>
<text transform="translate(224.60,1405.90) scale(0.9500,1)" font-family='"Liberation Sans", Arial, Helvetica, sans-serif' font-weight="bold" font-size="79.00"  dx="0 -1.88">-1.2</text>
<g transform="translate(224.60,1405.90) scale(0.9500,1)" fill="#fff"><rect x="27.98" y="-9.32" width="14.81" height="9.95"/><rect x="53.77" y="-9.32" width="13.71" height="9.95"/></g>
<text transform="translate(490.61,1473.30) scale(0.9470,1)" font-family='"Liberation Sans", Arial, Helvetica, sans-serif' font-weight="bold" font-size="79.00" >0.0</text>
<text transform="translate(737.40,1487.00) scale(0.9300,1)" font-family='"Liberation Sans", Arial, Helvetica, sans-serif' font-weight="bold" font-size="79.00" >5.0x10</text>
<g transform="translate(737.40,1487.00) scale(0.9300,1)" fill="#fff"><rect x="157.31" y="-9.32" width="14.81" height="9.95"/><rect x="183.11" y="-9.32" width="13.71" height="9.95"/></g>
<text transform="translate(961.37,1445.80) scale(0.9121,1)" font-family='"Liberation Sans", Arial, Helvetica, sans-serif' font-weight="bold" font-size="47.50" >-4</text>
<text transform="translate(1063.60,1487.00) scale(0.9300,1)" font-family='"Liberation Sans", Arial, Helvetica, sans-serif' font-weight="bold" font-size="79.00" >1.0x10</text>
<g transform="translate(1063.60,1487.00) scale(0.9300,1)" fill="#fff"><rect x="3.55" y="-9.32" width="14.81" height="9.95"/><rect x="29.35" y="-9.32" width="13.71" height="9.95"/><rect x="157.31" y="-9.32" width="14.81" height="9.95"/><rect x="183.11" y="-9.32" width="13.71" height="9.95"/></g>
<text transform="translate(1287.50,1445.80) scale(0.9457,1)" font-family='"Liberation Sans", Arial, Helvetica, sans-serif' font-weight="bold" font-size="47.50" >-3</text>
<text transform="translate(1389.80,1487.00) scale(0.9300,1)" font-family='"Liberation Sans", Arial, Helvetica, sans-serif' font-weight="bold" font-size="79.00" >1.5x10</text>
<g transform="translate(1389.80,1487.00) scale(0.9300,1)" fill="#fff"><rect x="3.55" y="-9.32" width="14.81" height="9.95"/><rect x="29.35" y="-9.32" width="13.71" height="9.95"/><rect x="157.31" y="-9.32" width="14.81" height="9.95"/><rect x="183.11" y="-9.32" width="13.71" height="9.95"/></g>
<text transform="translate(1613.70,1445.80) scale(0.9457,1)" font-family='"Liberation Sans", Arial, Helvetica, sans-serif' font-weight="bold" font-size="47.50" >-3</text>
<text transform="translate(1716.00,1487.00) scale(0.9300,1)" font-family='"Liberation Sans", Arial, Helvetica, sans-serif' font-weight="bold" font-size="79.00" >2.0x10</text>
<g transform="translate(1716.00,1487.00) scale(0.9300,1)" fill="#fff"><rect x="157.31" y="-9.32" width="14.81" height="9.95"/><rect x="183.11" y="-9.32" width="13.71" height="9.95"/></g>
<text transform="translate(1939.90,1445.80) scale(0.9457,1)" font-family='"Liberation Sans", Arial, Helvetica, sans-serif' font-weight="bold" font-size="47.50" >-3</text>
<text transform="translate(2042.20,1487.00) scale(0.9300,1)" font-family='"Liberation Sans", Arial, Helvetica, sans-serif' font-weight="bold" font-size="79.00" >2.5x10</text>
<g transform="translate(2042.20,1487.00) scale(0.9300,1)" fill="#fff"><rect x="157.31" y="-9.32" width="14.81" height="9.95"/><rect x="183.11" y="-9.32" width="13.71" height="9.95"/></g>
<text transform="translate(2266.10,1445.80) scale(0.9457,1)" font-family='"Liberation Sans", Arial, Helvetica, sans-serif' font-weight="bold" font-size="47.50" >-3</text>
</g>
<g fill="#000">
<text transform="translate(1051.18,1630.30) scale(0.9356,1)" font-family='"Liberation Sans", Arial, Helvetica, sans-serif' font-weight="bold" font-size="91.50" >Current (A)</text>
<text transform="rotate(-90) translate(-1064.59,104.60) scale(0.9696,1)" font-family='"Liberation Sans", Arial, Helvetica, sans-serif' font-weight="bold" font-size="91.50" >Potential (V</text>
<text transform="rotate(-90) translate(-575.55,138.20) scale(0.9479,1)" font-family='"Liberation Sans", Arial, Helvetica, sans-serif' font-weight="normal" font-size="55.00" stroke="#000" stroke-width="1.6" stroke-linejoin="round">SCE</text>
<text transform="rotate(-90) translate(-462.40,104.60) scale(0.8704,1)" font-family='"Liberation Sans", Arial, Helvetica, sans-serif' font-weight="bold" font-size="91.50" >)</text>
<text transform="translate(1136.01,1763.40) scale(0.9017,1)" font-family='"Liberation Serif", "Times New Roman", serif' font-weight="normal" font-size="83.50" stroke="#000" stroke-width="0.8" stroke-linejoin="round">(</text>
<text transform="translate(1163.01,1763.40) scale(1.0581,1)" font-family='"Liberation Serif", "Times New Roman", serif' font-weight="normal" font-size="83.50" stroke="#000" stroke-width="2" stroke-linejoin="round">a</text>
<text transform="translate(1204.86,1763.40) scale(0.8976,1)" font-family='"Liberation Serif", "Times New Roman", serif' font-weight="normal" font-size="83.50" stroke="#000" stroke-width="0.8" stroke-linejoin="round">)</text>
</g>
<g>
<rect x="1265" y="979.5" width="150" height="8.4" rx="3" fill="#000"/>
<rect x="1265" y="1061.0" width="150" height="8.4" rx="3" fill="#ff0000"/>
<rect x="1265" y="1140.6" width="150" height="8.4" rx="3" fill="#0000ff"/>
<rect x="1265" y="1242.1" width="150" height="8.4" rx="3" fill="#008000"/>
</g>
<g fill="#000">
<text transform="translate(1428.36,1006.00) scale(0.9072,1)" font-family='"Liberation Sans", Arial, Helvetica, sans-serif' font-weight="bold" font-size="67.60" >Bare steel</text>
<text transform="translate(1426.88,1088.00) scale(1.0311,1)" font-family='"Liberation Serif", "Times New Roman", serif' font-weight="normal" font-size="73.00" stroke="#000" stroke-width="1.2" stroke-linejoin="round">α</text>
<text transform="translate(1464.35,1087.50) scale(0.9066,1)" font-family='"Liberation Sans", Arial, Helvetica, sans-serif' font-weight="bold" font-size="67.60" >-FeOOH coated steel</text>
<text transform="translate(1428.60,1167.20) scale(0.9195,1)" font-family='"Liberation Sans", Arial, Helvetica, sans-serif' font-weight="bold" font-size="67.60" >Fe</text>
<text transform="translate(1500.04,1192.40) scale(1.0671,1)" font-family='"Liberation Sans", Arial, Helvetica, sans-serif' font-weight="normal" font-size="36.50" stroke="#000" stroke-width="1.0">3</text>
<text transform="translate(1519.95,1167.20) scale(0.9812,1)" font-family='"Liberation Sans", Arial, Helvetica, sans-serif' font-weight="bold" font-size="67.60" >O</text>
<text transform="translate(1568.33,1192.30) scale(1.0579,1)" font-family='"Liberation Sans", Arial, Helvetica, sans-serif' font-weight="normal" font-size="36.50" stroke="#000" stroke-width="1.0">4</text>
<text transform="translate(1606.05,1167.20) scale(0.9043,1)" font-family='"Liberation Sans", Arial, Helvetica, sans-serif' font-weight="bold" font-size="67.60" >coated steel</text>
<text transform="translate(1428.60,1268.70) scale(0.9195,1)" font-family='"Liberation Sans", Arial, Helvetica, sans-serif' font-weight="bold" font-size="67.60" >Fe</text>
<text transform="translate(1499.47,1293.20) scale(1.1140,1)" font-family='"Liberation Sans", Arial, Helvetica, sans-serif' font-weight="normal" font-size="36.50" stroke="#000" stroke-width="1.0">2</text>
<text transform="translate(1519.95,1268.70) scale(0.9812,1)" font-family='"Liberation Sans", Arial, Helvetica, sans-serif' font-weight="bold" font-size="67.60" >O</text>
<text transform="translate(1568.00,1293.20) scale(1.0959,1)" font-family='"Liberation Sans", Arial, Helvetica, sans-serif' font-weight="normal" font-size="36.50" stroke="#000" stroke-width="1.0">3</text>
<text transform="translate(1599.56,1268.70) scale(0.9032,1)" font-family='"Liberation Sans", Arial, Helvetica, sans-serif' font-weight="bold" font-size="67.60" >coated steel</text>
</g>
</svg>
</body></html>
